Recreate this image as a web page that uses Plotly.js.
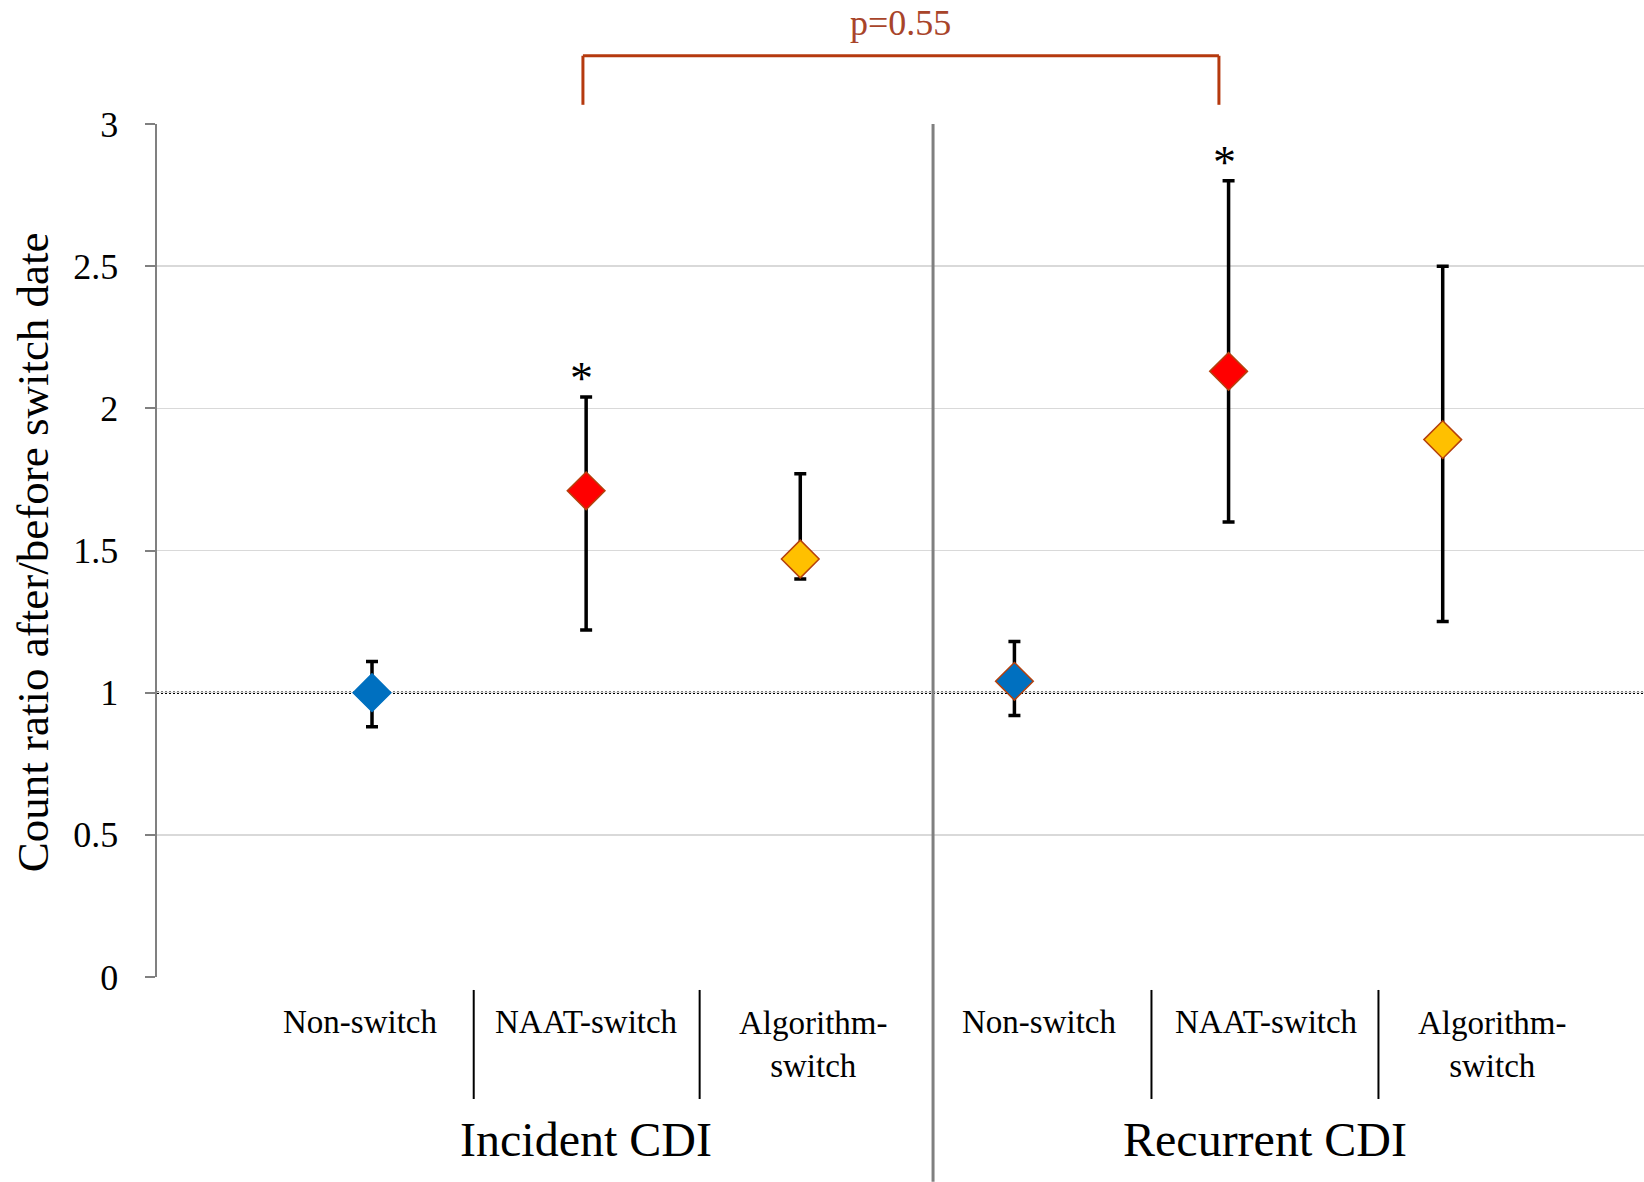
<!DOCTYPE html>
<html>
<head>
<meta charset="utf-8">
<script src="https://cdn.plot.ly/plotly-3.0.1.min.js"></script>
<style>html,body{margin:0;padding:0;background:#fff;}#chart{width:1644px;height:1182px;}</style>
</head>
<body>
<div id="chart"></div>
<script>
// ---- data ----
var groups = ['Incident CDI', 'Recurrent CDI'];
var categories = ['Non-switch', 'NAAT-switch', 'Algorithm-switch'];
var categoryLabels = ['Non-switch', 'NAAT-switch', 'Algorithm-<br>switch'];
var incidentRatio = [1.00, 1.71, 1.47];
var incidentLower = [0.88, 1.22, 1.40];
var incidentUpper = [1.11, 2.04, 1.77];
var recurrentRatio = [1.04, 2.13, 1.89];
var recurrentLower = [0.92, 1.60, 1.25];
var recurrentUpper = [1.18, 2.80, 2.50];
var markerColors = ['#0070C0', '#FF0000', '#FFC000'];
var significant = [false, true, false];
var pValueText = 'p=0.55';
var yTicks = [0, 0.5, 1, 1.5, 2, 2.5, 3];
var yTickText = ['0', '0.5', '1', '1.5', '2', '2.5', '3'];

// ---- build ----
var FONT = '"Liberation Serif", "Times New Roman", serif';
var xKeys = [], yVals = [], errPlus = [], errMinus = [], colors = [], lineColors = [], sig = [];
var sets = [[incidentRatio, incidentLower, incidentUpper], [recurrentRatio, recurrentLower, recurrentUpper]];
groups.forEach(function (g, gi) {
  categories.forEach(function (c, ci) {
    var r = sets[gi][0][ci];
    xKeys.push(g + ' | ' + c);
    yVals.push(r);
    errPlus.push(+(sets[gi][2][ci] - r).toFixed(4));
    errMinus.push(+(r - sets[gi][1][ci]).toFixed(4));
    colors.push(markerColors[ci]);
    lineColors.push(gi === 0 && ci === 0 ? markerColors[0] : '#B5400C');
    sig.push(significant[ci]);
  });
});

var trace = {
  type: 'scatter', mode: 'markers',
  x: xKeys, y: yVals,
  marker: { symbol: 'diamond', size: 29, color: colors, line: { color: lineColors, width: 1.5 } },
  error_y: { type: 'data', symmetric: false, array: errPlus, arrayminus: errMinus,
             color: '#000000', thickness: 3.5, width: 6 },
  hoverinfo: 'x+y', showlegend: false, cliponaxis: false
};

var annotations = [];
var shapes = [];

// category labels (positions in axis index units)
var labelX = [-0.054, 1.0, 2.06, 3.116, 4.176, 5.232];
var labelY = [-0.053, -0.053, -0.0795, -0.053, -0.053, -0.0795];
xKeys.forEach(function (k, i) {
  annotations.push({ xref: 'x', yref: 'paper', x: labelX[i], y: labelY[i],
    text: categoryLabels[i % 3], showarrow: false, xanchor: 'center', yanchor: 'middle',
    font: { family: FONT, size: 33, color: '#000' } });
});
// group labels
var groupX = [1.0, 4.17];
groups.forEach(function (g, gi) {
  annotations.push({ xref: 'x', yref: 'paper', x: groupX[gi], y: -0.1907, text: g,
    showarrow: false, xanchor: 'center', yanchor: 'middle',
    font: { family: FONT, size: 48, color: '#000' } });
});
// significance asterisks
xKeys.forEach(function (k, i) {
  if (sig[i]) {
    annotations.push({ xref: 'x', yref: 'y', x: i - 0.02, y: yVals[i] + errPlus[i], text: '*',
      showarrow: false, xanchor: 'center', yanchor: 'bottom', yshift: -9,
      font: { family: FONT, size: 46, color: '#000' } });
  }
});
// p-value
annotations.push({ xref: 'x', yref: 'paper', x: 2.47, y: 1.118, text: pValueText,
  showarrow: false, xanchor: 'center', yanchor: 'middle',
  font: { family: FONT, size: 36, color: '#A8442A' } });
// y-axis title
annotations.push({ xref: 'paper', yref: 'paper', x: -0.0834, y: 0.498,
  text: 'Count ratio after/before switch date', textangle: -90, showarrow: false,
  xanchor: 'center', yanchor: 'middle', font: { family: FONT, size: 45, color: '#000' } });

// bracket
var bc = '#B5390E';
shapes.push({ type: 'line', xref: 'x', yref: 'paper', x0: 0.985, x1: 3.955, y0: 1.080, y1: 1.080, line: { color: bc, width: 3 } });
shapes.push({ type: 'line', xref: 'x', yref: 'paper', x0: 0.985, x1: 0.985, y0: 1.080, y1: 1.0225, line: { color: bc, width: 3 } });
shapes.push({ type: 'line', xref: 'x', yref: 'paper', x0: 3.955, x1: 3.955, y0: 1.080, y1: 1.0225, line: { color: bc, width: 3 } });
// reference line at 1
shapes.push({ type: 'line', xref: 'paper', yref: 'y', x0: 0, x1: 1, y0: 1, y1: 1, layer: 'below',
  line: { color: '#000', width: 2.5, dash: '2px,2px' } });
// group divider
shapes.push({ type: 'line', xref: 'x', yref: 'paper', x0: 2.62, x1: 2.62, y0: 1, y1: -0.24,
  line: { color: '#808080', width: 3 } });
// label separators
[0.475, 1.53, 3.64, 4.70].forEach(function (sx) {
  shapes.push({ type: 'line', xref: 'x', yref: 'paper', x0: sx, x1: sx, y0: -0.0152, y1: -0.143,
    line: { color: '#000', width: 2 } });
});

var layout = {
  width: 1644, height: 1182,
  margin: { l: 157, r: 0, t: 124, b: 205, pad: 0 },
  paper_bgcolor: '#fff', plot_bgcolor: '#fff',
  font: { family: FONT, color: '#000' },
  showlegend: false,
  xaxis: { type: 'category', categoryorder: 'array', categoryarray: xKeys,
    range: [-1.004, 5.94], showticklabels: false, ticks: '', showgrid: false,
    zeroline: false, showline: false, fixedrange: true },
  yaxis: { range: [0, 3], tickvals: yTicks, ticktext: yTickText, showgrid: true,
    gridcolor: '#D9D9D9', gridwidth: 1.5, zeroline: false, showline: true,
    linecolor: '#808080', linewidth: 2.5, ticks: 'outside', ticklen: 10, tickwidth: 2,
    tickcolor: '#808080', ticklabelstandoff: 19,
    tickfont: { family: FONT, size: 36, color: '#000' }, fixedrange: true },
  annotations: annotations,
  shapes: shapes
};

Plotly.newPlot('chart', [trace], layout, { displayModeBar: false, staticPlot: true });
</script>
</body>
</html>
